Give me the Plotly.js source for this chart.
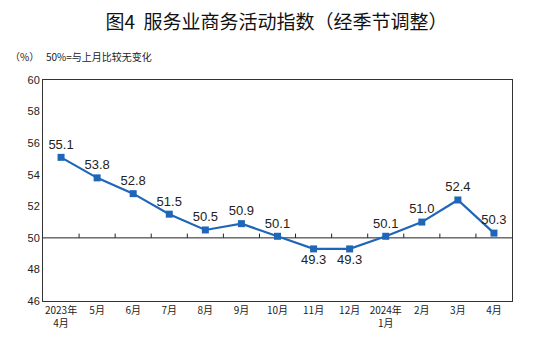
<!DOCTYPE html>
<html><head><meta charset="utf-8">
<script src="https://cdn.plot.ly/plotly-3.0.1.min.js"></script>
<style>body{margin:0;background:#fff}#c{width:553px;height:343px}</style>
</head><body><div id="c"></div>
<script>
const categories = ['2023年<br>4月','5月','6月','7月','8月','9月','10月','11月','12月','2024年<br>1月','2月','3月','4月'];
const values = [55.1,53.8,52.8,51.5,50.5,50.9,50.1,49.3,49.3,50.1,51.0,52.4,50.3];
const labelText = ['55.1','53.8','52.8','51.5','50.5','50.9','50.1','49.3','49.3','50.1','51.0','52.4','50.3'];
const yTicks = [46,48,50,52,54,56,58,60];
const yMin = 46, yMax = 60, baseLine = 50, tickLen = 0.27;

const idx = categories.map((c, i) => i);
const labelPos = values.map(v => v < baseLine ? 'bottom center' : 'top center');
const boundaries = idx.slice(1).map(i => i - 0.5);

const trace = {
  x: idx, y: values, type:'scatter', mode:'lines+markers+text',
  text: labelText, textposition: labelPos,
  textfont:{family:'Liberation Sans, Arial', size:13, color:'#222'},
  line:{color:'#1f66b8', width:2.2},
  marker:{symbol:'square', size:7, color:'#1f66b8'},
  cliponaxis:false, hoverinfo:'none'
};
const tickTrace = {
  x: boundaries.flatMap(b => [b, b, null]),
  y: boundaries.flatMap(() => [baseLine, baseLine + tickLen, null]),
  type:'scatter', mode:'lines', line:{color:'#222', width:1},
  showlegend:false, hoverinfo:'none'
};

const layout = {
  width:553, height:343, showlegend:false,
  paper_bgcolor:'#fff', plot_bgcolor:'#fff',
  margin:{l:43, r:41, t:80, b:42},
  title:{text:'图4  服务业商务活动指数（经季节调整）', x:0.5, xanchor:'center', y:0.935, yanchor:'middle',
    font:{family:'Noto Sans CJK SC', size:19, color:'#111'}},
  xaxis:{type:'linear', range:[-0.5, categories.length - 0.5], tickmode:'array', tickvals:idx, ticktext:categories,
    showline:true, linecolor:'#333', linewidth:1, mirror:true,
    ticks:'', showgrid:false, zeroline:false,
    tickfont:{family:'Noto Sans CJK SC', size:10, color:'#222'}, tickangle:0},
  yaxis:{range:[yMin,yMax], tickmode:'array', tickvals:yTicks, ticktext:yTicks.map(String),
    showline:true, linecolor:'#333', linewidth:1, mirror:true,
    ticks:'', showgrid:false, zeroline:false,
    tickfont:{family:'Liberation Sans, Arial', size:11, color:'#222'}},
  shapes:[
    {type:'line', xref:'paper', x0:0, x1:1, yref:'y', y0:baseLine, y1:baseLine, line:{color:'#222', width:1}, layer:'below'}
  ],
  annotations:[
    {text:'（%）', xref:'paper', yref:'paper', x:-0.075, y:1.105, xanchor:'left', yanchor:'middle', showarrow:false,
     font:{family:'Noto Sans CJK SC', size:10, color:'#222'}},
    {text:'50%=与上月比较无变化', xref:'paper', yref:'paper', x:0.003, y:1.105, xanchor:'left', yanchor:'middle', showarrow:false,
     font:{family:'Noto Sans CJK SC', size:10, color:'#222'}}
  ]
};
Plotly.newPlot('c', [tickTrace, trace], layout, {staticPlot:true});
</script></body></html>
